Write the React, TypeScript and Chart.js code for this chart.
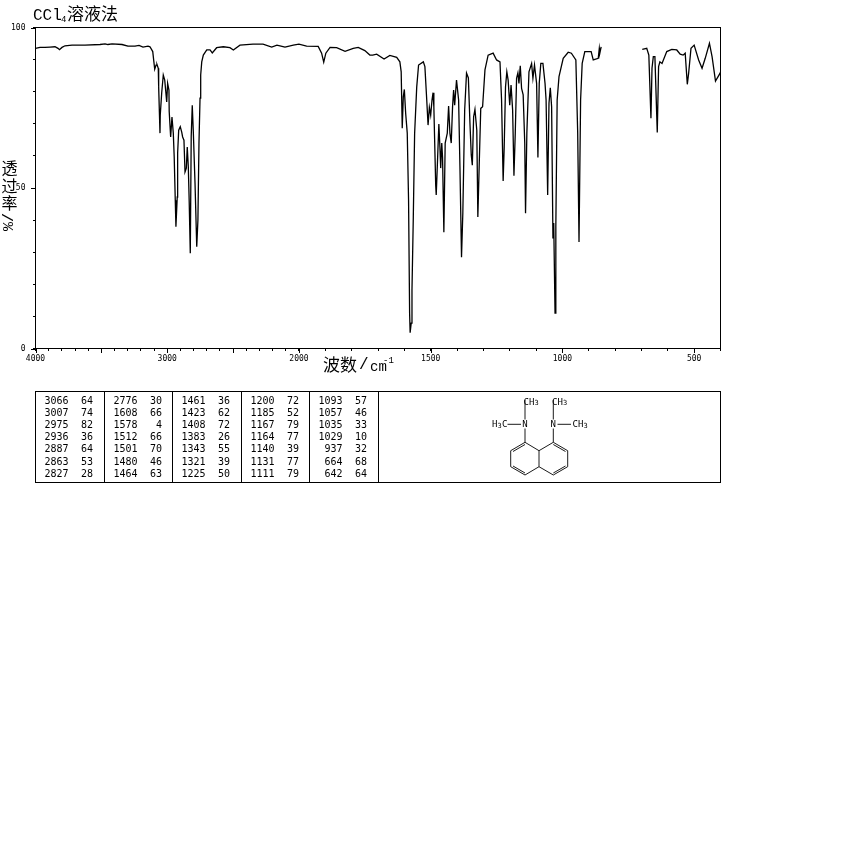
import React, { useEffect, useRef } from "react";
import { Chart, registerables } from "chart.js";

Chart.register(...registerables);

// Spectrum, upper range 4000-2000 1/cm is compressed by two on the axis
const wavenumbers: number[] = [
  4000, 3966, 3928, 3890, 3852, 3829, 3818, 3799, 3776, 3723, 3624, 3510, 3472, 3450, 3419, 3343, 3298, 3245, 3214, 3184,
  3146, 3131, 3110, 3103, 3095, 3085, 3078, 3068, 3065, 3055, 3053, 3042, 3030, 3019, 3012, 3004, 2997, 2987, 2985, 2974,
  2964, 2954, 2947, 2939, 2934, 2924, 2921, 2913, 2901, 2890, 2883, 2873, 2865, 2855, 2848, 2840, 2833, 2825, 2818, 2810,
  2802, 2789, 2776, 2767, 2759, 2751, 2746, 2738, 2726, 2700, 2675, 2658, 2625, 2574, 2524, 2498, 2448, 2349, 2273, 2207,
  2167, 2106, 2043, 2000, 1971, 1927, 1914, 1906, 1898, 1882, 1857, 1825, 1794, 1775, 1750, 1731, 1720, 1705, 1677, 1655,
  1629, 1617, 1612, 1608, 1604, 1600, 1595, 1589, 1584, 1580, 1578, 1574, 1571, 1566, 1561, 1553, 1546, 1528, 1522, 1515,
  1510, 1505, 1500, 1495, 1491, 1488, 1481, 1479, 1474, 1469, 1465, 1462, 1458, 1455, 1450, 1445, 1437, 1432, 1427, 1422,
  1417, 1413, 1409, 1402, 1394, 1389, 1383, 1378, 1371, 1364, 1357, 1351, 1346, 1342, 1337, 1332, 1325, 1321, 1316, 1310,
  1303, 1294, 1282, 1263, 1250, 1237, 1231, 1225, 1221, 1216, 1211, 1206, 1200, 1195, 1189, 1184, 1179, 1174, 1169, 1165,
  1160, 1155, 1149, 1143, 1140, 1135, 1127, 1117, 1112, 1106, 1098, 1093, 1088, 1082, 1074, 1066, 1062, 1056, 1051, 1046,
  1041, 1036, 1033, 1028, 1025, 1020, 1013, 997, 978, 966, 949, 942, 937, 931, 925, 915, 891, 883, 864, 860,
  858, 853, 780, 697, 680, 672, 664, 660, 655, 649, 640, 635, 630, 622, 604, 585, 566, 553, 542, 534,
  526, 521, 512, 500, 483, 470, 458, 442, 432, 419, 402, 400,
];

const transmittance: (number | null)[] = [
  93.5, 93.8, 93.8, 93.9, 94, 93.5, 93.1, 93.8, 94.3, 94.5, 94.5, 94.7, 94.9, 94.7, 94.9, 94.7, 94.2, 94.2, 94.4, 93.9,
  94.2, 94, 92.5, 89.9, 87, 88.3, 88.5, 87.3, 81.5, 67.1, 72.7, 79.6, 85.2, 83.6, 80.5, 76.8, 82.6, 80.5, 73.8, 65.9,
  72.1, 67.1, 59.6, 46.2, 37.9, 47.2, 60.9, 68, 69.1, 67.4, 65.9, 64.9, 55, 56.2, 62.8, 56.6, 45.3, 29.7, 66, 75.8,
  67.5, 51.5, 31.7, 40, 64, 78, 85.2, 89.3, 91.4, 93, 93, 92.1, 93.7, 94, 93.7, 93, 94.5, 94.8, 94.8, 93.9,
  94.5, 93.9, 94.5, 94.8, 94.2, 94.1, 92, 89.2, 92, 93.8, 93.7, 92.6, 93.5, 93.8, 92.8, 91.4, 91.4, 91.7, 90.2, 91.3,
  90.7, 89.3, 86.2, 68.6, 78.4, 80.7, 73.3, 67.1, 46.2, 11, 4.9, 7.9, 18.2, 41, 67, 81.5, 88.3, 89.3, 87.8, 77.4,
  69.6, 75.1, 72.7, 77.4, 79.7, 75.3, 50.9, 47.8, 58.7, 69.9, 62.8, 56.2, 64, 59.6, 36.2, 64, 67.1, 75.5, 67.1, 64,
  75.3, 80.5, 75.8, 83.6, 77.4, 56.6, 28.4, 42.2, 74.3, 85.8, 84.3, 70.2, 60.3, 57.1, 72.2, 74.5, 68, 41, 56.6, 74.8,
  75.3, 86.8, 91.4, 92, 89.9, 89.3, 77.4, 52.2, 62.8, 81.5, 86.2, 83.6, 75.8, 82.1, 74.3, 53.8, 67.1, 84.2, 85.9, 82.6,
  88.1, 81, 79, 64, 42.1, 67.1, 86.2, 88.8, 84.2, 88.3, 82.6, 59.5, 82.6, 88.8, 88.8, 82.6, 77.4, 47.8, 76.4, 81.2,
  75.3, 34.3, 39.1, 11, 37.9, 77.4, 84.7, 90.4, 92.3, 92, 89.9, 67.1, 33.2, 77.4, 88.8, 92.5, 92.5, 89.9, 90.4, 93.5,
  92, 94, null, 93.2, 93.5, 91.4, 71.7, 87.3, 90.9, 90.9, 67.3, 87.8, 89.3, 88.8, 92.5, 93.2, 93, 91.7, 91.4, 92,
  82.3, 85.7, 93.5, 94.5, 89.9, 87.3, 90.4, 95.1, 90.9, 83.3, 85.7, 86.1,
];

const xTickValues: number[] = [
  4000, 3900, 3800, 3700, 3600, 3500, 3400, 3300, 3200, 3100, 3000, 2900, 2800, 2700, 2600, 2500, 2400, 2300, 2200, 2100,
  2000, 1900, 1800, 1700, 1600, 1500, 1400, 1300, 1200, 1100, 1000, 900, 800, 700, 600, 500, 400,
];
const xMajorTicks: number[] = [4000, 3500, 3000, 2500, 2000, 1500, 1000, 500];
const xLabelled: number[] = [4000, 3000, 2000, 1500, 1000, 500];
const yLabelled: number[] = [100, 50, 0];

const tableWavenumbers: number[][] = [
  [3066, 3007, 2975, 2936, 2887, 2863, 2827],
  [2776, 1608, 1578, 1512, 1501, 1480, 1464],
  [1461, 1423, 1408, 1383, 1343, 1321, 1225],
  [1200, 1185, 1167, 1164, 1140, 1131, 1111],
  [1093, 1057, 1035, 1029, 937, 664, 642],
];
const tableValues: number[][] = [
  [64, 74, 82, 36, 64, 53, 28],
  [30, 66, 4, 66, 70, 46, 63],
  [36, 62, 72, 26, 55, 39, 50],
  [72, 52, 79, 77, 39, 77, 79],
  [57, 46, 33, 10, 32, 68, 64],
];

const title = "溶液法";
const yAxisName = ["透", "过", "率"];

// Axis position: the range above 2000 runs at half the scale of the range below it
const toAxis = (w: number) => (w >= 2000 ? (4000 - w) / 2 : 1000 + (2000 - w));

const CJK = '"Noto Sans CJK SC", sans-serif';
const MONO = '"DejaVu Sans Mono", monospace';

const decorations = {
  id: "decorations",
  afterDraw(chart: any) {
    const { ctx, chartArea: a, scales } = chart;
    ctx.save();
    ctx.strokeStyle = "#000";
    ctx.fillStyle = "#000";
    ctx.lineWidth = 1;
    const line = (x1: number, y1: number, x2: number, y2: number) => {
      ctx.beginPath();
      ctx.moveTo(x1, y1);
      ctx.lineTo(x2, y2);
      ctx.stroke();
    };
    ctx.strokeRect(a.left, a.top, a.right - a.left, a.bottom - a.top);

    // longer ticks at the major values
    xMajorTicks.forEach((w) => {
      const x = Math.round(scales.x.getPixelForValue(toAxis(w))) + 0.5;
      line(x, a.bottom, x, a.bottom + 4.5);
    });
    yLabelled.forEach((v) => {
      const y = Math.round(scales.y.getPixelForValue(v)) + 0.5;
      line(a.left - 4.5, y, a.left, y);
    });

    // title
    ctx.textBaseline = "alphabetic";
    ctx.textAlign = "left";
    ctx.font = '16px "Liberation Mono", monospace';
    ctx.fillText("CCl", 33, 20);
    ctx.font = '9px "Liberation Mono", monospace';
    ctx.fillText("4", 61, 22);
    ctx.font = `17px ${CJK}`;
    ctx.fillText(title, 67, 20);

    // y axis name
    ctx.font = `16px ${CJK}`;
    ctx.textAlign = "center";
    ctx.textBaseline = "middle";
    yAxisName.forEach((c, i) => ctx.fillText(c, 9.5, 168 + i * 17.5));
    ctx.save();
    ctx.translate(9.5, 222);
    ctx.rotate(-Math.PI / 2);
    ctx.font = '15px "Liberation Mono", monospace';
    ctx.fillText("%/", 0, 0);
    ctx.restore();

    // x axis name
    ctx.textAlign = "left";
    ctx.font = `17px ${CJK}`;
    ctx.fillText("波数", 323, 365);
    ctx.font = '16px "Liberation Mono", monospace';
    ctx.fillText("/", 359, 365);
    ctx.font = '14px "Liberation Mono", monospace';
    ctx.fillText("cm", 370, 367);
    ctx.font = '9px "Liberation Mono", monospace';
    ctx.fillText("-1", 383, 361);

    // peak table
    ctx.strokeRect(35.5, 391.5, 685, 91);
    const dividers = [104.5, 172.5, 241.5, 309.5, 378.5];
    dividers.forEach((x) => line(x, 391.5, x, 482.5));
    ctx.font = `10px ${MONO}`;
    ctx.textAlign = "right";
    const lefts = [35.5, 104.5, 172.5, 241.5, 309.5];
    tableWavenumbers.forEach((col, c) => {
      col.forEach((w, r) => {
        const y = 401 + r * 12.2;
        ctx.fillText(String(w), lefts[c] + 33, y);
        ctx.fillText(String(tableValues[c][r]), lefts[c] + 57.5, y);
      });
    });

    // structural formula
    ctx.lineWidth = 0.9;
    const ring = (pts: number[][]) => {
      ctx.beginPath();
      pts.forEach((p, i) => (i ? ctx.lineTo(p[0], p[1]) : ctx.moveTo(p[0], p[1])));
      ctx.stroke();
    };
    ring([[539, 450.7], [525, 442.3], [510.7, 450.7], [510.7, 466.7], [525, 475], [539, 466.7], [539, 450.7], [553.3, 442.3], [567.7, 450.7], [567.7, 466.7], [553.3, 475], [539, 466.7]]);
    line(513, 451.5, 525, 444.5);
    line(513, 466, 525, 473);
    line(565.5, 451.5, 553.3, 444.5);
    line(565.5, 466, 553.3, 473);
    line(525, 428.5, 525, 442.3);
    line(553.3, 428.5, 553.3, 442.3);
    line(525, 400, 525, 419.5);
    line(553.3, 400, 553.3, 419.5);
    line(507.5, 424.3, 521, 424.3);
    line(557.5, 424.3, 571, 424.3);
    ctx.font = `9px ${MONO}`;
    ctx.textAlign = "center";
    ctx.fillText("N", 525, 424.5);
    ctx.fillText("N", 553.3, 424.5);
    const ch3 = (cx: number, cy: number) => {
      ctx.font = `9px ${MONO}`;
      ctx.textAlign = "left";
      ctx.fillText("CH", cx - 8, cy);
      ctx.font = `7px ${MONO}`;
      ctx.fillText("3", cx + 3, cy + 1);
    };
    ch3(531.5, 402.5);
    ch3(560, 402.5);
    ch3(580.5, 425);
    ctx.font = `9px ${MONO}`;
    ctx.textAlign = "left";
    ctx.fillText("H", 492, 425);
    ctx.fillText("C", 502, 425);
    ctx.font = `7px ${MONO}`;
    ctx.fillText("3", 497.5, 426);
    ctx.restore();
  },
};

export default function App() {
  const ref = useRef<HTMLCanvasElement>(null);
  useEffect(() => {
    const chart = new Chart(ref.current!, {
      type: "line",
      data: {
        datasets: [
          {
            data: wavenumbers.map((w, i) => ({ x: toAxis(w), y: transmittance[i] })) as any,
            borderColor: "#000",
            borderWidth: 1.3,
            pointRadius: 0,
            tension: 0,
            spanGaps: false,
            fill: false,
          },
        ],
      },
      options: {
        animation: false,
        responsive: false,
        devicePixelRatio: 1,
        parsing: false,
        normalized: false,
        layout: { padding: { left: 0, top: 27.5, right: 129.5, bottom: 481.5 } },
        plugins: { legend: { display: false }, title: { display: false }, tooltip: { enabled: false } },
        scales: {
          x: {
            type: "linear",
            min: toAxis(4000),
            max: toAxis(400),
            afterFit: (s: any) => {
              s.height = 20;
            },
            afterBuildTicks: (s: any) => {
              s.ticks = xTickValues.map((w) => ({ value: toAxis(w) }));
            },
            grid: { drawOnChartArea: false, tickLength: 2.5, color: "#000", tickColor: "#000" },
            border: { color: "#000" },
            ticks: {
              autoSkip: false,
              maxRotation: 0,
              minRotation: 0,
              padding: 3.5,
              color: "#000",
              font: { family: "DejaVu Sans Mono", size: 8 },
              callback: (_v: any, i: number) => (xLabelled.includes(xTickValues[i]) ? String(xTickValues[i]) : ""),
            },
          },
          y: {
            type: "linear",
            min: 0,
            max: 100,
            afterFit: (s: any) => {
              s.width = 35.5;
            },
            grid: { drawOnChartArea: false, tickLength: 2.5, color: "#000", tickColor: "#000" },
            border: { color: "#000" },
            ticks: {
              stepSize: 10,
              padding: 7.5,
              color: "#000",
              font: { family: "DejaVu Sans Mono", size: 8 },
              callback: (v: any) => (yLabelled.includes(Number(v)) ? String(v) : ""),
            },
          },
        },
      },
      plugins: [decorations],
    } as any);
    return () => chart.destroy();
  }, []);
  return (
    <canvas
      ref={ref}
      width={850}
      height={850}
      style={{ position: "absolute", left: 0, top: 0, width: 850, height: 850, display: "block" }}
    />
  );
}
